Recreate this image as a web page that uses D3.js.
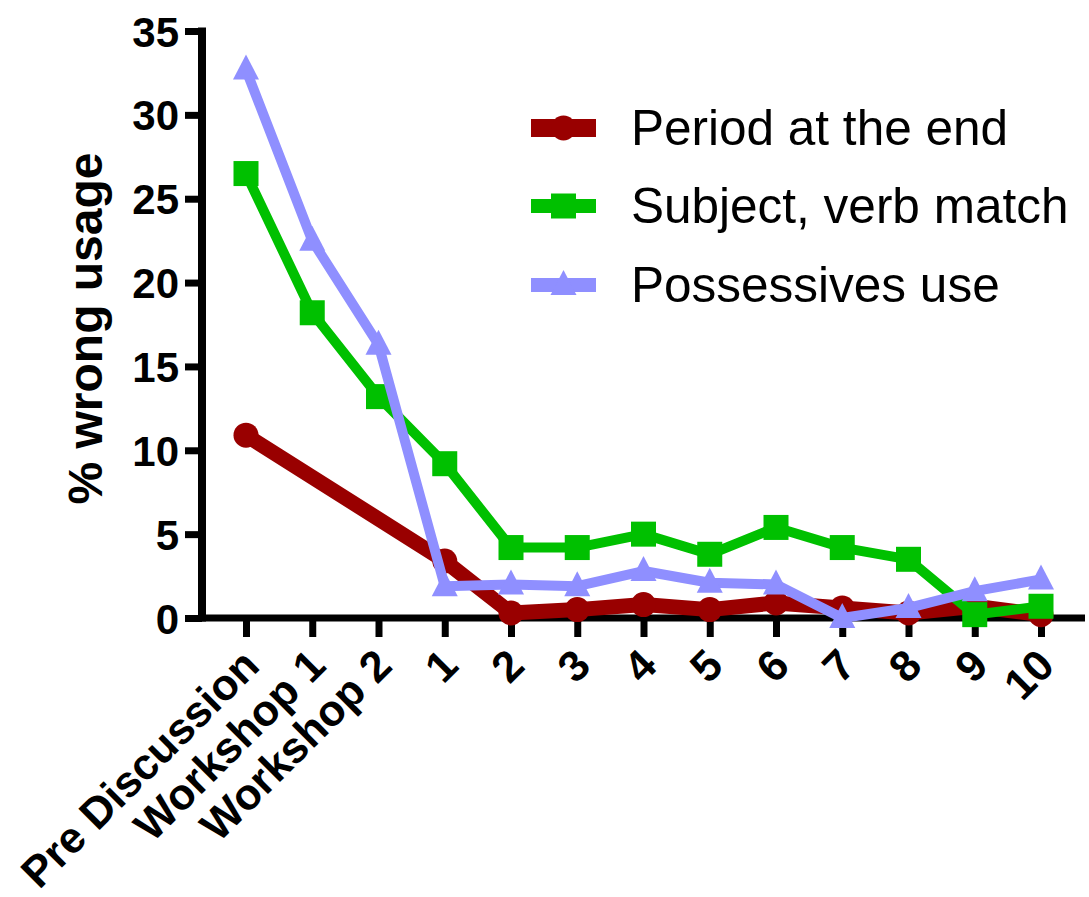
<!DOCTYPE html>
<html>
<head>
<meta charset="utf-8">
<script src="https://cdn.jsdelivr.net/npm/d3@7"></script>
<style>
  html, body { margin: 0; padding: 0; background: #fff; }
  svg { display: block; font-family: "Liberation Sans", Arial, sans-serif; }
</style>
</head>
<body>
<svg id="chart" width="1089" height="897"></svg>
<script>
// ---- data ----
const categories = ["Pre Discussion", "Workshop 1", "Workshop 2", "1", "2", "3", "4", "5", "6", "7", "8", "9", "10"];
const periodAtEnd = [10.9, null, null, 3.4, 0.3, 0.5, 0.8, 0.5, 0.9, 0.6, 0.3, 0.7, 0.2];
const subjectVerb = [26.5, 18.2, 13.2, 9.2, 4.2, 4.2, 5.0, 3.8, 5.4, 4.2, 3.5, 0.2, 0.7];
const possessives = [32.7, 22.5, 16.3, 1.9, 2.0, 1.9, 2.8, 2.1, 2.0, 0.0, 0.6, 1.6, 2.3];
const seriesNames = ["Period at the end", "Subject, verb match", "Possessives use"];
const yTicks = [0, 5, 10, 15, 20, 25, 30, 35];
const yTitle = "% wrong usage";

const seriesList = [
  { name: seriesNames[0], values: periodAtEnd, color: "#990000", width: 15, legendWidth: 18, shape: "circle" },
  { name: seriesNames[1], values: subjectVerb, color: "#00c000", width: 10, legendWidth: 14, shape: "square" },
  { name: seriesNames[2], values: possessives, color: "#8f8fff", width: 10, legendWidth: 14, shape: "triangle" }
];

const svg = d3.select("#chart");
const axisLeftX = 202, axisRightX = 1085, axisY = 618;

const x = d3.scalePoint().domain(categories).range([246, 1041]);
const y = d3.scaleLinear().domain([0, 35]).range([618, 31]);

// ---- axes ----
const yAxis = d3.axisLeft(y).tickValues(yTicks).tickSize(17).tickPadding(6).tickSizeOuter(0);
const gy = svg.append("g").attr("transform", `translate(${axisLeftX},0)`).call(yAxis);
gy.select(".domain").remove();
gy.selectAll(".tick line").attr("stroke", "#000").attr("stroke-width", 7);
gy.selectAll(".tick text")
  .attr("font-size", 42).attr("font-weight", "bold").attr("fill", "#000")
  .attr("font-family", "'Liberation Sans', Arial, sans-serif")
  .attr("dy", "0.36em");
svg.append("line").attr("x1", axisLeftX).attr("x2", axisLeftX)
  .attr("y1", y(35) - 3.5).attr("y2", axisY + 3.5)
  .attr("stroke", "#000").attr("stroke-width", 8);

const xAxis = d3.axisBottom(x).tickSize(19).tickSizeOuter(0);
const gx = svg.append("g").attr("transform", `translate(0,${axisY})`).call(xAxis);
gx.select(".domain").remove();
gx.selectAll(".tick line").attr("stroke", "#000").attr("stroke-width", 7);
gx.selectAll(".tick text")
  .attr("font-size", 43.5).attr("font-weight", "bold").attr("fill", "#000")
  .attr("font-family", "'Liberation Sans', Arial, sans-serif")
  .attr("text-anchor", "end")
  .attr("y", 0).attr("dy", 0)
  .attr("transform", "translate(15,50) rotate(-45)");
svg.append("line").attr("x1", axisLeftX - 4).attr("x2", axisRightX)
  .attr("y1", axisY).attr("y2", axisY)
  .attr("stroke", "#000").attr("stroke-width", 7);

// y title
svg.append("text")
  .attr("transform", `translate(102,${(y(35) + y(0)) / 2 + 4}) rotate(-90)`)
  .attr("text-anchor", "middle")
  .attr("font-size", 48).attr("font-weight", "bold").attr("fill", "#000")
  .text(yTitle);

// ---- marker drawing ----
function drawMarker(g, shape, cx, cy, color) {
  if (shape === "circle") {
    g.append("circle").attr("cx", cx).attr("cy", cy).attr("r", 12.5).attr("fill", color);
  } else if (shape === "square") {
    g.append("rect").attr("x", cx - 12.5).attr("y", cy - 12.5).attr("width", 25).attr("height", 25).attr("fill", color);
  } else {
    const w = 26, h = 25;
    g.append("path")
      .attr("d", `M${cx},${cy - h * 0.6} L${cx + w / 2},${cy + h * 0.4} L${cx - w / 2},${cy + h * 0.4} Z`)
      .attr("fill", color);
  }
}

// ---- series ----
const line = d3.line().x(d => x(d.c)).y(d => y(d.v));
seriesList.forEach(s => {
  const pts = categories.map((c, i) => ({ c, v: s.values[i] })).filter(d => d.v !== null);
  const g = svg.append("g");
  g.append("path").datum(pts).attr("d", line)
    .attr("fill", "none").attr("stroke", s.color).attr("stroke-width", s.width)
    .attr("stroke-linejoin", "round");
  pts.forEach(d => drawMarker(g, s.shape, x(d.c), y(d.v), s.color));
});

// ---- legend ----
const legendY = [128, 206, 285];
seriesList.forEach((s, i) => {
  const g = svg.append("g");
  const ly = legendY[i];
  g.append("line").attr("x1", 531).attr("x2", 596).attr("y1", ly).attr("y2", ly)
    .attr("stroke", s.color).attr("stroke-width", s.legendWidth);
  drawMarker(g, s.shape, 563.5, ly, s.color);
  g.append("text").attr("x", 631).attr("y", ly + 17)
    .attr("font-size", 49.5).attr("fill", "#000")
    .text(s.name);
});
</script>
</body>
</html>
